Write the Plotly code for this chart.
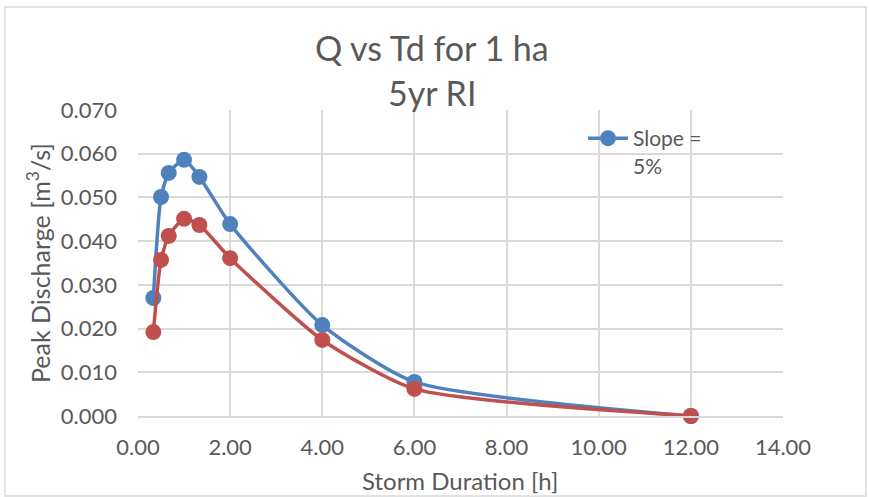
import plotly.graph_objects as go

# Storm duration [h] and peak discharge [m3/s] for a 1 ha catchment, 5 yr RI
duration_h = [0.333, 0.5, 0.667, 1.0, 1.333, 2.0, 4.0, 6.0, 12.0]
q_slope_5 = [0.0270, 0.0501, 0.0556, 0.0586, 0.0547, 0.0439, 0.0208, 0.0078, 0.0000]
q_second = [0.0192, 0.0357, 0.0412, 0.0451, 0.0437, 0.0361, 0.0174, 0.0062, 0.0000]

x_ticks = [0, 2, 4, 6, 8, 10, 12, 14]
y_ticks = [0.0, 0.01, 0.02, 0.03, 0.04, 0.05, 0.06, 0.07]

BLUE = "#4F81BD"
RED = "#C0504D"
FONT = "Lato"
GREY_TEXT = "#595959"
GRID = "#D9D9D9"

# plot area in pixels
L, R, T, B = 138, 783, 110, 416
W, H = 869, 497


def px_x(p):
    return (p - L) / (R - L)


def px_y(p):
    return (B - p) / (B - T)


fig = go.Figure()
fig.add_trace(go.Scatter(
    x=duration_h, y=q_slope_5, name="Slope =<br>5%",
    mode="lines+markers", line=dict(color=BLUE, width=3.5, shape="spline", smoothing=0.6),
    marker=dict(color=BLUE, size=16), cliponaxis=False,
))
fig.add_trace(go.Scatter(
    x=duration_h, y=q_second, name="",
    mode="lines+markers", line=dict(color=RED, width=3.5, shape="spline", smoothing=0.6),
    marker=dict(color=RED, size=16), showlegend=False, cliponaxis=False,
))

fig.update_layout(
    width=W, height=H,
    margin=dict(l=L, r=W - R, t=T, b=H - B),
    paper_bgcolor="white", plot_bgcolor="white",
    font=dict(family=FONT, color=GREY_TEXT),
    legend=dict(
        x=px_x(583), y=px_y(118), xanchor="left", yanchor="top",
        bgcolor="rgba(0,0,0,0)", font=dict(family=FONT, size=21, color=GREY_TEXT),
        valign="top", itemwidth=40, tracegroupgap=0,
    ),
    xaxis=dict(
        range=[0, 14], tickvals=x_ticks, ticktext=[f"{v:.2f}" for v in x_ticks],
        showgrid=True, gridcolor=GRID, gridwidth=1.5, zeroline=False,
        showline=True, linecolor=GRID, linewidth=1.5,
        tickfont=dict(family=FONT, size=22, color=GREY_TEXT), ticks="",
        ticklabelstandoff=11,
    ),
    yaxis=dict(
        range=[0, 0.07], tickvals=y_ticks, ticktext=[f"{v:.3f}" for v in y_ticks],
        showgrid=True, gridcolor=GRID, gridwidth=1.5, zeroline=False,
        showline=False,
        tickfont=dict(family=FONT, size=22, color=GREY_TEXT), ticks="",
        ticklabelstandoff=20,
    ),
)

# chart title (two lines)
fig.add_annotation(text="Q vs Td for 1 ha", xref="paper", yref="paper",
                   x=px_x(432), y=px_y(47), xanchor="center", yanchor="middle",
                   showarrow=False, font=dict(family=FONT, size=34, color=GREY_TEXT))
fig.add_annotation(text="5yr RI", xref="paper", yref="paper",
                   x=px_x(432), y=px_y(92), xanchor="center", yanchor="middle",
                   showarrow=False, font=dict(family=FONT, size=34, color=GREY_TEXT))

# axis titles
fig.add_annotation(text="Storm Duration [h]", xref="paper", yref="paper",
                   x=px_x(460), y=px_y(480), xanchor="center", yanchor="middle",
                   showarrow=False, font=dict(family=FONT, size=24, color=GREY_TEXT))
fig.add_annotation(text="Peak Discharge [m<sup>3</sup>/s]", xref="paper", yref="paper",
                   x=px_x(38), y=px_y(263), xanchor="center", yanchor="middle", textangle=-90,
                   showarrow=False, font=dict(family=FONT, size=25, color=GREY_TEXT))

# light outer border of the chart area
fig.add_shape(type="rect", xref="paper", yref="paper",
              x0=px_x(5), x1=px_x(866), y0=px_y(496), y1=px_y(7),
              line=dict(color="#D9D9D9", width=1.5), fillcolor="rgba(0,0,0,0)", layer="below")

fig.write_html("out.html")
